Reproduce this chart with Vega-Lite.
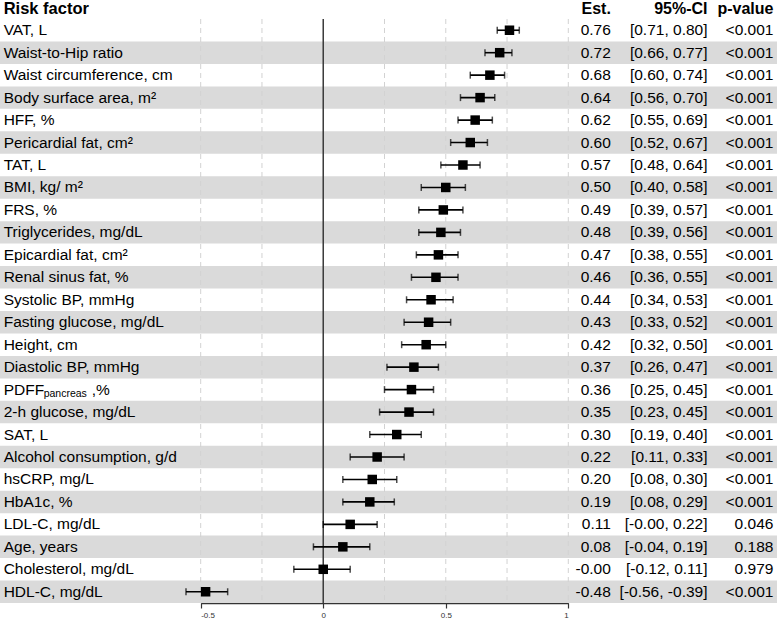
{
  "$schema": "https://vega.github.io/schema/vega-lite/v6.json",
  "width": 777,
  "height": 584,
  "autosize": {"type": "none"},
  "padding": {"top": 19, "left": 0, "right": 0, "bottom": 19},
  "background": "white",
  "config": {
    "view": {"stroke": null},
    "font": "Liberation Sans",
    "text": {"font": "Liberation Sans"}
  },
  "datasets": {
    "rows": [
      {"factor": "VAT, L", "est": 0.76, "lo": 0.71, "hi": 0.80, "est_txt": "0.76", "ci": "[0.71, 0.80]", "p": "<0.001"},
      {"factor": "Waist-to-Hip ratio", "est": 0.72, "lo": 0.66, "hi": 0.77, "est_txt": "0.72", "ci": "[0.66, 0.77]", "p": "<0.001"},
      {"factor": "Waist circumference, cm", "est": 0.68, "lo": 0.60, "hi": 0.74, "est_txt": "0.68", "ci": "[0.60, 0.74]", "p": "<0.001"},
      {"factor": "Body surface area, m²", "est": 0.64, "lo": 0.56, "hi": 0.70, "est_txt": "0.64", "ci": "[0.56, 0.70]", "p": "<0.001"},
      {"factor": "HFF, %", "est": 0.62, "lo": 0.55, "hi": 0.69, "est_txt": "0.62", "ci": "[0.55, 0.69]", "p": "<0.001"},
      {"factor": "Pericardial fat, cm²", "est": 0.60, "lo": 0.52, "hi": 0.67, "est_txt": "0.60", "ci": "[0.52, 0.67]", "p": "<0.001"},
      {"factor": "TAT, L", "est": 0.57, "lo": 0.48, "hi": 0.64, "est_txt": "0.57", "ci": "[0.48, 0.64]", "p": "<0.001"},
      {"factor": "BMI, kg/ m²", "est": 0.50, "lo": 0.40, "hi": 0.58, "est_txt": "0.50", "ci": "[0.40, 0.58]", "p": "<0.001"},
      {"factor": "FRS, %", "est": 0.49, "lo": 0.39, "hi": 0.57, "est_txt": "0.49", "ci": "[0.39, 0.57]", "p": "<0.001"},
      {"factor": "Triglycerides, mg/dL", "est": 0.48, "lo": 0.39, "hi": 0.56, "est_txt": "0.48", "ci": "[0.39, 0.56]", "p": "<0.001"},
      {"factor": "Epicardial fat, cm²", "est": 0.47, "lo": 0.38, "hi": 0.55, "est_txt": "0.47", "ci": "[0.38, 0.55]", "p": "<0.001"},
      {"factor": "Renal sinus fat, %", "est": 0.46, "lo": 0.36, "hi": 0.55, "est_txt": "0.46", "ci": "[0.36, 0.55]", "p": "<0.001"},
      {"factor": "Systolic BP, mmHg", "est": 0.44, "lo": 0.34, "hi": 0.53, "est_txt": "0.44", "ci": "[0.34, 0.53]", "p": "<0.001"},
      {"factor": "Fasting glucose, mg/dL", "est": 0.43, "lo": 0.33, "hi": 0.52, "est_txt": "0.43", "ci": "[0.33, 0.52]", "p": "<0.001"},
      {"factor": "Height, cm", "est": 0.42, "lo": 0.32, "hi": 0.50, "est_txt": "0.42", "ci": "[0.32, 0.50]", "p": "<0.001"},
      {"factor": "Diastolic BP, mmHg", "est": 0.37, "lo": 0.26, "hi": 0.47, "est_txt": "0.37", "ci": "[0.26, 0.47]", "p": "<0.001"},
      {"factor": "PDFF pancreas ,%", "est": 0.36, "lo": 0.25, "hi": 0.45, "est_txt": "0.36", "ci": "[0.25, 0.45]", "p": "<0.001"},
      {"factor": "2-h glucose, mg/dL", "est": 0.35, "lo": 0.23, "hi": 0.45, "est_txt": "0.35", "ci": "[0.23, 0.45]", "p": "<0.001"},
      {"factor": "SAT, L", "est": 0.30, "lo": 0.19, "hi": 0.40, "est_txt": "0.30", "ci": "[0.19, 0.40]", "p": "<0.001"},
      {"factor": "Alcohol consumption, g/d", "est": 0.22, "lo": 0.11, "hi": 0.33, "est_txt": "0.22", "ci": "[0.11, 0.33]", "p": "<0.001"},
      {"factor": "hsCRP, mg/L", "est": 0.20, "lo": 0.08, "hi": 0.30, "est_txt": "0.20", "ci": "[0.08, 0.30]", "p": "<0.001"},
      {"factor": "HbA1c, %", "est": 0.19, "lo": 0.08, "hi": 0.29, "est_txt": "0.19", "ci": "[0.08, 0.29]", "p": "<0.001"},
      {"factor": "LDL-C, mg/dL", "est": 0.11, "lo": 0.00, "hi": 0.22, "est_txt": "0.11", "ci": "[-0.00, 0.22]", "p": "0.046"},
      {"factor": "Age, years", "est": 0.08, "lo": -0.04, "hi": 0.19, "est_txt": "0.08", "ci": "[-0.04, 0.19]", "p": "0.188"},
      {"factor": "Cholesterol, mg/dL", "est": 0.00, "lo": -0.12, "hi": 0.11, "est_txt": "-0.00", "ci": "[-0.12, 0.11]", "p": "0.979"},
      {"factor": "HDL-C, mg/dL", "est": -0.48, "lo": -0.56, "hi": -0.39, "est_txt": "-0.48", "ci": "[-0.56, -0.39]", "p": "<0.001"}
    ],
    "grid": [{"g": -0.5}, {"g": -0.25}, {"g": 0.25}, {"g": 0.5}, {"g": 0.75}, {"g": 1}],
    "one": [{}]
  },
  "data": {"name": "rows"},
  "layer": [
    {
      "transform": [
        {"window": [{"op": "row_number", "as": "rn"}]},
        {"filter": "datum.rn % 2 == 0"}
      ],
      "mark": {"type": "rect", "color": "#dadada"},
      "encoding": {
        "y": {
          "field": "factor", "type": "nominal", "axis": null,
          "scale": {
            "type": "band",
            "domain": ["Risk factor", "VAT, L", "Waist-to-Hip ratio", "Waist circumference, cm", "Body surface area, m²", "HFF, %", "Pericardial fat, cm²", "TAT, L", "BMI, kg/ m²", "FRS, %", "Triglycerides, mg/dL", "Epicardial fat, cm²", "Renal sinus fat, %", "Systolic BP, mmHg", "Fasting glucose, mg/dL", "Height, cm", "Diastolic BP, mmHg", "PDFF pancreas ,%", "2-h glucose, mg/dL", "SAT, L", "Alcohol consumption, g/d", "hsCRP, mg/L", "HbA1c, %", "LDL-C, mg/dL", "Age, years", "Cholesterol, mg/dL", "HDL-C, mg/dL"],
            "range": [-22.46, 584],
            "paddingInner": 0,
            "paddingOuter": 0
          }
        }
      }
    },
    {
      "data": {"name": "grid"},
      "mark": {"type": "rule", "color": "#d2d2d2", "strokeDash": [5, 4], "strokeWidth": 1},
      "encoding": {
        "x": {
          "field": "g", "type": "quantitative",
          "scale": {"domain": [-0.5, 1], "range": [200.7, 568.3], "nice": false, "zero": false},
          "axis": {
            "values": [-0.5, 0, 0.5, 1],
            "title": null,
            "grid": false,
            "labelExpr": "'' + datum.value",
            "labelFontSize": 8,
            "labelColor": "#333333",
            "labelPadding": 3,
            "tickSize": 5,
            "tickColor": "#333333",
            "tickWidth": 1.2,
            "domainColor": "#333333",
            "domainWidth": 1.5,
            "labelFont": "Liberation Sans"
          }
        }
      }
    },
    {
      "data": {"name": "one"},
      "mark": {"type": "rule", "color": "#3a3a3a", "strokeWidth": 1.5},
      "encoding": {"x": {"datum": 0, "type": "quantitative", "title": null}}
    },
    {
      "mark": {"type": "errorbar", "ticks": {"size": 7, "thickness": 1.5, "color": "black"}, "rule": {"strokeWidth": 1.6, "color": "black"}, "color": "black"},
      "encoding": {
        "y": {"field": "factor", "type": "nominal", "axis": null},
        "x": {"field": "lo", "type": "quantitative", "title": null},
        "x2": {"field": "hi"}
      }
    },
    {
      "mark": {"type": "point", "shape": "square", "filled": true, "color": "black", "opacity": 1, "size": 90},
      "encoding": {
        "y": {"field": "factor", "type": "nominal", "axis": null},
        "x": {"field": "est", "type": "quantitative", "title": null}
      }
    },
    {
      "mark": {"type": "text", "align": "left", "baseline": "middle", "fontSize": 15.5, "color": "black"},
      "encoding": {
        "y": {"field": "factor", "type": "nominal", "axis": null},
        "x": {"datum": -1.304, "type": "quantitative", "title": null},
        "text": {"condition": {"test": "datum.factor === 'PDFF pancreas ,%'", "value": "PDFF"}, "field": "factor"}
      }
    },
    {
      "transform": [{"filter": "datum.factor === 'PDFF pancreas ,%'"}],
      "mark": {"type": "text", "align": "left", "baseline": "middle", "fontSize": 10.5, "color": "black", "dx": 40, "dy": 4, "text": "pancreas"},
      "encoding": {
        "y": {"field": "factor", "type": "nominal", "axis": null},
        "x": {"datum": -1.304, "type": "quantitative", "title": null}
      }
    },
    {
      "transform": [{"filter": "datum.factor === 'PDFF pancreas ,%'"}],
      "mark": {"type": "text", "align": "left", "baseline": "middle", "fontSize": 15.5, "color": "black", "dx": 88, "text": ",%"},
      "encoding": {
        "y": {"field": "factor", "type": "nominal", "axis": null},
        "x": {"datum": -1.304, "type": "quantitative", "title": null}
      }
    },
    {
      "mark": {"type": "text", "align": "right", "baseline": "middle", "fontSize": 15.5, "color": "black"},
      "encoding": {
        "y": {"field": "factor", "type": "nominal", "axis": null},
        "x": {"datum": 1.1737, "type": "quantitative", "title": null},
        "text": {"field": "est_txt"}
      }
    },
    {
      "mark": {"type": "text", "align": "right", "baseline": "middle", "fontSize": 15.5, "color": "black"},
      "encoding": {
        "y": {"field": "factor", "type": "nominal", "axis": null},
        "x": {"datum": 1.568, "type": "quantitative", "title": null},
        "text": {"field": "ci"}
      }
    },
    {
      "mark": {"type": "text", "align": "right", "baseline": "middle", "fontSize": 15.5, "color": "black"},
      "encoding": {
        "y": {"field": "factor", "type": "nominal", "axis": null},
        "x": {"datum": 1.837, "type": "quantitative", "title": null},
        "text": {"field": "p"}
      }
    },
    {
      "data": {"name": "one"},
      "mark": {"type": "text", "align": "left", "baseline": "middle", "fontSize": 16.5, "fontWeight": "bold", "color": "black", "dy": 1.5, "text": "Risk factor"},
      "encoding": {
        "y": {"datum": "Risk factor", "type": "nominal", "axis": null},
        "x": {"datum": -1.304, "type": "quantitative", "title": null}
      }
    },
    {
      "data": {"name": "one"},
      "mark": {"type": "text", "align": "right", "baseline": "middle", "fontSize": 16, "fontWeight": "bold", "color": "black", "dy": 1.5, "text": "Est."},
      "encoding": {
        "y": {"datum": "Risk factor", "type": "nominal", "axis": null},
        "x": {"datum": 1.1737, "type": "quantitative", "title": null}
      }
    },
    {
      "data": {"name": "one"},
      "mark": {"type": "text", "align": "right", "baseline": "middle", "fontSize": 16, "fontWeight": "bold", "color": "black", "dy": 1.5, "text": "95%-CI"},
      "encoding": {
        "y": {"datum": "Risk factor", "type": "nominal", "axis": null},
        "x": {"datum": 1.568, "type": "quantitative", "title": null}
      }
    },
    {
      "data": {"name": "one"},
      "mark": {"type": "text", "align": "right", "baseline": "middle", "fontSize": 16, "fontWeight": "bold", "color": "black", "dy": 1.5, "text": "p-value"},
      "encoding": {
        "y": {"datum": "Risk factor", "type": "nominal", "axis": null},
        "x": {"datum": 1.837, "type": "quantitative", "title": null}
      }
    }
  ]
}
